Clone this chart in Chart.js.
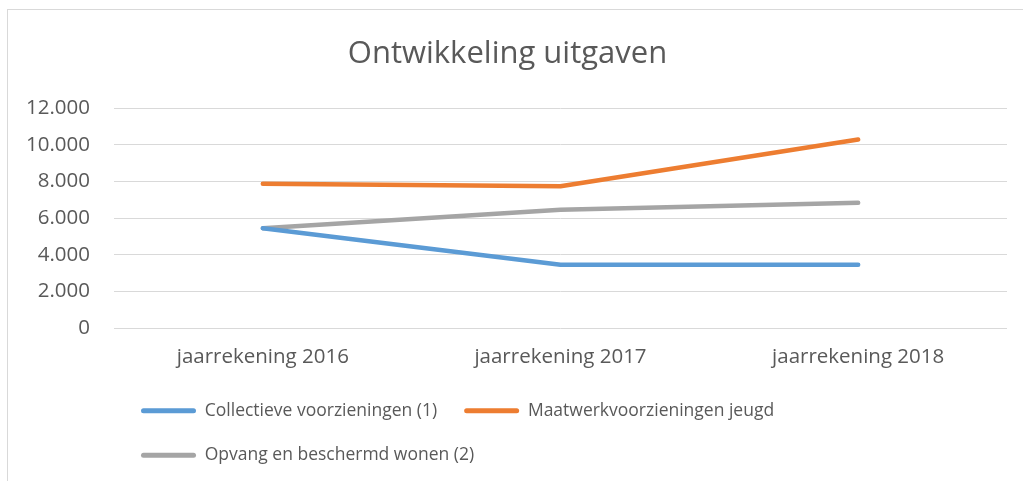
<!DOCTYPE html>
<html>
<head>
<meta charset="utf-8">
<script src="https://cdn.jsdelivr.net/npm/chart.js@4"></script>
<style>
  html, body { margin: 0; padding: 0; background: #fff; overflow: hidden; }
  .frame {
    position: absolute; left: 7px; top: 9px;
    width: 1100px; height: 600px;
    border-left: 1px solid #d9d9d9; border-top: 1px solid #d9d9d9;
  }
  canvas { display: block; }
</style>
</head>
<body>
<div class="frame">
  <canvas id="chart" width="1015" height="471"></canvas>
</div>
<script>
// data
const categories = ['jaarrekening 2016', 'jaarrekening 2017', 'jaarrekening 2018'];
const seriesNames = ['Collectieve voorzieningen (1)', 'Maatwerkvoorzieningen jeugd', 'Opvang en beschermd wonen (2)'];
const collectief = [5450, 3450, 3450];
const maatwerk = [7880, 7740, 10290];
const opvang = [5450, 6450, 6840];
const yTicks = [0, 2000, 4000, 6000, 8000, 10000, 12000];

const colors = ['#5b9bd5', '#ed7d31', '#a5a5a5'];
const textColor = '#595959';
const fontFamily = "'Open Sans', 'Noto Sans', sans-serif";

// 12000 -> "12.000"
const fmt = v => String(v).replace(/\B(?=(\d{3})+(?!\d))/g, '.');

const mkSet = (label, values, color) => ({
    label: label,
    data: values,
    borderColor: color,
    backgroundColor: color,
    borderWidth: 4.5,
    borderCapStyle: 'round',
    borderJoinStyle: 'round',
    pointRadius: 0,
    pointHoverRadius: 0,
    tension: 0
});

const ctx = document.getElementById('chart').getContext('2d');
new Chart(ctx, {
    type: 'line',
    data: {
        labels: categories,
        datasets: [
            mkSet(seriesNames[0], collectief, colors[0]),
            mkSet(seriesNames[1], maatwerk, colors[1]),
            mkSet(seriesNames[2], opvang, colors[2])
        ]
    },
    options: {
        responsive: false,
        animation: false,
        layout: { padding: { top: 0, right: 16, bottom: 7, left: 0 } },
        plugins: {
            tooltip: { enabled: false },
            title: {
                display: true,
                text: 'Ontwikkeling uitgaven',
                color: textColor,
                font: { family: fontFamily, size: 31, weight: 'normal' },
                padding: { top: 26, bottom: 35 }
            },
            legend: {
                position: 'bottom',
                align: 'start',
                fullSize: false,
                labels: {
                    color: textColor,
                    font: { family: fontFamily, size: 17.5 },
                    boxWidth: 55,
                    boxHeight: 5,
                    padding: 27,
                    useBorderRadius: true,
                    borderRadius: 2.5,
                    generateLabels: chart => Chart.defaults.plugins.legend.labels.generateLabels(chart)
                        .map(l => Object.assign(l, { lineWidth: 0, fillStyle: l.strokeStyle }))
                }
            }
        },
        scales: {
            x: {
                offset: true,
                grid: { display: false, drawTicks: false, offset: true },
                border: { display: false },
                ticks: {
                    color: textColor,
                    font: { family: fontFamily, size: 20.5 },
                    padding: 17,
                    maxRotation: 0
                },
                afterFit: s => { s.height = 47; }
            },
            y: {
                min: 0,
                max: 12000,
                grid: { color: '#d9d9d9', lineWidth: 1, drawTicks: false },
                border: { display: false },
                afterBuildTicks: s => { s.ticks = yTicks.map(v => ({ value: v })); },
                ticks: {
                    color: textColor,
                    font: { family: fontFamily, size: 20.5 },
                    padding: 24,
                    callback: v => fmt(v)
                },
                afterFit: s => { s.width = 106; }
            }
        }
    }
});
</script>
</body>
</html>
